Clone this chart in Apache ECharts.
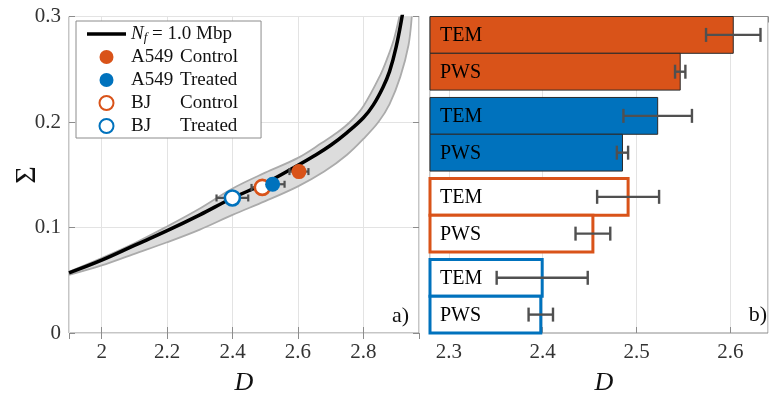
<!DOCTYPE html>
<html><head><meta charset="utf-8">
<script src="https://cdn.jsdelivr.net/npm/echarts@6/dist/echarts.min.js"></script>
<style>html,body{margin:0;padding:0;background:#fff}#c{width:773px;height:403px}</style>
</head><body><div id="c"></div>
<script>
// ---------- data ----------
const groups = ['A549 Control', 'A549 Treated', 'BJ Control', 'BJ Treated'];
const methods = ['TEM', 'PWS'];
const temD   = [2.603, 2.5225, 2.491, 2.3995];
const temErr = [0.029, 0.0365, 0.033, 0.0485];
const pwsD   = [2.5465, 2.485, 2.4535, 2.398];
const pwsErr = [0.0055, 0.006, 0.0185, 0.013];
const sigma  = [0.153, 0.141, 0.138, 0.128];

// N_f = 1.0 Mbp model curve
const curveD = [1.90, 2.00, 2.10, 2.20, 2.30, 2.40, 2.50, 2.60, 2.65, 2.70, 2.75, 2.80, 2.83, 2.86, 2.88, 2.90, 2.92, 2.935];
const curveS = [0.057, 0.069, 0.083, 0.097, 0.112, 0.128, 0.142, 0.159, 0.168, 0.178, 0.190, 0.204, 0.216, 0.233, 0.248, 0.271, 0.303, 0.330];
// band edges
const upperD = [1.90, 2.00, 2.10, 2.20, 2.30, 2.40, 2.50, 2.60, 2.672, 2.72, 2.759, 2.80, 2.851, 2.875, 2.892, 2.905, 2.913, 2.93];
const upperS = [0.058, 0.071, 0.085, 0.101, 0.118, 0.137, 0.152, 0.166, 0.180, 0.190, 0.200, 0.215, 0.244, 0.262, 0.277, 0.293, 0.305, 0.340];
const lowerD = [1.90, 2.00, 2.10, 2.20, 2.30, 2.40, 2.50, 2.60, 2.68, 2.75, 2.80, 2.846, 2.88, 2.913, 2.938, 2.948, 2.955];
const lowerS = [0.055, 0.064, 0.075, 0.086, 0.098, 0.112, 0.125, 0.139, 0.153, 0.169, 0.184, 0.200, 0.217, 0.243, 0.273, 0.300, 0.330];

// ---------- style ----------
const ORANGE = '#D95319', BLUE = '#0072BD';
const groupColor = [ORANGE, BLUE, ORANGE, BLUE];
const groupFilled = [true, true, false, false];
const SERIF = "'Liberation Serif','Times New Roman',serif";
const AX = '#8c8c8c', GRIDC = '#e3e3e3', LBL = '#333';
const ERRC = '#505050';
const GAP = 0.2;                 // gap between groups (bar heights)
const TOTAL = 4 * 2 + 3 * GAP;   // y extent of right panel

const chart = echarts.init(document.getElementById('c'), null, {renderer: 'canvas'});

function baseX(gridIndex, min, max, show) {
  return {
    type: 'value', gridIndex, min, max, splitNumber: gridIndex === 0 ? 5 : 4,
    position: show ? 'bottom' : 'top',
    axisLine: {show: false},
    axisTick: {show: true, inside: true, length: 6, lineStyle: {color: AX}},
    axisLabel: {show: show, showMinLabel: false, showMaxLabel: false, color: LBL,
      fontFamily: SERIF, fontSize: 21, margin: 9},
    splitLine: {show: show, lineStyle: {color: GRIDC, width: 1}}
  };
}

const xAxes = [
  Object.assign(baseX(0, 1.9, 2.97, true), {name: 'D', nameLocation: 'middle', nameGap: 37,
    nameTextStyle: {fontFamily: SERIF, fontStyle: 'italic', fontSize: 26, color: '#111'}}),
  Object.assign(baseX(1, 2.28, 2.64, true), {name: 'D', nameLocation: 'middle', nameGap: 37,
    nameTextStyle: {fontFamily: SERIF, fontStyle: 'italic', fontSize: 26, color: '#111', padding: [0, 0, 0, 10]}}),
  baseX(0, 1.9, 2.97, false),
  baseX(1, 2.28, 2.64, false)
];

const yAxes = [
  {type: 'value', gridIndex: 0, min: 0, max: 0.3, interval: 0.1,
    axisLine: {show: false},
    axisTick: {show: true, inside: true, length: 6, lineStyle: {color: AX}},
    axisLabel: {color: LBL, fontFamily: SERIF, fontSize: 21, margin: 8},
    splitLine: {show: true, lineStyle: {color: GRIDC, width: 1}}},
  {type: 'value', gridIndex: 1, min: 0, max: TOTAL, show: false},
  {type: 'value', gridIndex: 0, min: 0, max: 0.3, interval: 0.1, position: 'right',
    axisLine: {show: false}, axisLabel: {show: false}, splitLine: {show: false},
    axisTick: {show: true, inside: true, length: 6, lineStyle: {color: AX}}}
];

// band + edges
const bandSeries = {
  type: 'custom', name: 'band', xAxisIndex: 0, yAxisIndex: 0, clip: true, silent: true, z: 1,
  data: [[upperD[0], upperS[0]]],
  renderItem(params, api) {
    const up = upperD.map((d, i) => api.coord([d, upperS[i]]));
    const lo = lowerD.map((d, i) => api.coord([d, lowerS[i]]));
    return {type: 'group', children: [
      {type: 'polygon', shape: {points: up.concat(lo.slice().reverse()), smooth: 0.35}, style: {fill: '#dcdcdc', stroke: null}},
      {type: 'polyline', shape: {points: up, smooth: 0.35}, style: {stroke: '#ababab', lineWidth: 1.8, fill: null}},
      {type: 'polyline', shape: {points: lo, smooth: 0.35}, style: {stroke: '#ababab', lineWidth: 1.8, fill: null}}
    ]};
  }
};

const curveSeries = {
  type: 'line', name: 'Nf', xAxisIndex: 0, yAxisIndex: 0, z: 3,
  data: curveD.map((d, i) => [d, curveS[i]]),
  showSymbol: false, symbol: 'none', smooth: 0.4, clip: true,
  lineStyle: {color: '#000', width: 3.5}, itemStyle: {color: '#000'}
};

// scatter error bars
const scatterErr = {
  type: 'custom', name: 'scErr', xAxisIndex: 0, yAxisIndex: 0, z: 4, silent: true,
  data: groups.map((g, i) => [temD[i] - temErr[i], sigma[i], temD[i] + temErr[i]]),
  renderItem(params, api) {
    const a = api.coord([api.value(0), api.value(1)]);
    const b = api.coord([api.value(2), api.value(1)]);
    const h = 3.5, st = {stroke: ERRC, lineWidth: 2.2};
    return {type: 'group', children: [
      {type: 'line', shape: {x1: a[0], y1: a[1], x2: b[0], y2: b[1]}, style: st},
      {type: 'line', shape: {x1: a[0], y1: a[1] - h, x2: a[0], y2: a[1] + h}, style: st},
      {type: 'line', shape: {x1: b[0], y1: b[1] - h, x2: b[0], y2: b[1] + h}, style: st}
    ]};
  }
};

const drawOrder = [3, 2, 1, 0];
const scatterSeries = drawOrder.map(i => ({
  type: 'scatter', name: groups[i], xAxisIndex: 0, yAxisIndex: 0, z: 5,
  data: [[temD[i], sigma[i]]], symbol: 'circle', symbolSize: 15,
  itemStyle: groupFilled[i]
    ? {color: groupColor[i], borderWidth: 0, opacity: 1}
    : {color: '#fff', borderColor: groupColor[i], borderWidth: 2.6, opacity: 1}
}));

// bars
const barData = [];
groups.forEach((g, gi) => {
  barData.push([gi, 0, temD[gi], temErr[gi]]);
  barData.push([gi, 1, pwsD[gi], pwsErr[gi]]);
});
const barSeries = {
  type: 'custom', name: 'bars', xAxisIndex: 1, yAxisIndex: 1, z: 3, clip: false,
  data: barData,
  encode: {x: 2, y: 1},
  renderItem(params, api) {
    const gi = api.value(0), mi = api.value(1), v = api.value(2), e = api.value(3);
    const yc = TOTAL - (gi * (2 + GAP) + mi + 0.5);
    const base = xAxes[1].min;
    const p0 = api.coord([base, yc + 0.5]);
    const p1 = api.coord([v, yc - 0.5]);
    const filled = groupFilled[gi];
    const col = groupColor[gi];
    const rect = {type: 'rect', shape: {x: p0[0], y: p0[1], width: p1[0] - p0[0], height: p1[1] - p0[1]},
      style: filled ? {fill: col, stroke: '#2a2a2a', lineWidth: 1}
                    : {fill: '#fff', stroke: col, lineWidth: 3}};
    const c = api.coord([v, yc]);
    const a = api.coord([v - e, yc]);
    const b = api.coord([v + e, yc]);
    const h = 7, st = {stroke: ERRC, lineWidth: 2.4};
    return {type: 'group', children: [
      rect,
      {type: 'text', x: p0[0] + 10, y: c[1] + 1, style: {text: methods[mi], fill: '#000',
        font: '20px ' + SERIF, align: 'left', verticalAlign: 'middle'}},
      {type: 'line', shape: {x1: a[0], y1: a[1], x2: b[0], y2: b[1]}, style: st},
      {type: 'line', shape: {x1: a[0], y1: a[1] - h, x2: a[0], y2: a[1] + h}, style: st},
      {type: 'line', shape: {x1: b[0], y1: b[1] - h, x2: b[0], y2: b[1] + h}, style: st}
    ]};
  }
};

const option = {
  animation: false,
  backgroundColor: '#fff',
  grid: [
    {left: 69, right: 354, top: 16.5, bottom: 70, show: true, borderColor: AX, borderWidth: 1, backgroundColor: 'transparent'},
    {left: 430, right: 5, top: 16.5, bottom: 70, show: true, borderColor: AX, borderWidth: 1, backgroundColor: 'transparent'}
  ],
  xAxis: xAxes,
  yAxis: yAxes,
  legend: {
    show: true, orient: 'vertical', left: 76, top: 21,
    data: [{name: 'Nf', icon: 'path://M0,0H39V3.5H0Z'}, 'A549 Control', 'A549 Treated', 'BJ Control', 'BJ Treated'],
    itemWidth: 39, itemHeight: 14, itemGap: 3,
    padding: [3, 23, 2, 11],
    backgroundColor: '#fff', borderColor: AX, borderWidth: 1, borderRadius: 0,
    selectedMode: false,
    formatter(name) {
      if (name === 'Nf') return '{i|N}{s|f}{t| = 1.0 Mbp}';
      const k = name.indexOf(' ');
      return '{a|' + name.slice(0, k) + '}{t|' + name.slice(k + 1) + '}';
    },
    textStyle: {
      fontFamily: SERIF, fontSize: 19, color: '#111', lineHeight: 20,
      rich: {
        i: {fontFamily: SERIF, fontSize: 19, fontStyle: 'italic', color: '#111', lineHeight: 20},
        s: {fontFamily: SERIF, fontSize: 13, fontStyle: 'italic', color: '#111', lineHeight: 12, verticalAlign: 'bottom'},
        a: {fontFamily: SERIF, fontSize: 19, color: '#111', width: 49, lineHeight: 20},
        t: {fontFamily: SERIF, fontSize: 19, color: '#111', lineHeight: 20}
      }
    }
  },
  graphic: [
    {type: 'text', x: 27, y: 175, rotation: Math.PI / 2, z: 10,
      style: {text: 'Σ', font: '30px ' + SERIF, fill: '#111', align: 'center', verticalAlign: 'middle'}},
    {type: 'text', x: 409, y: 316, z: 10, style: {text: 'a)', font: '22px ' + SERIF, fill: '#111', align: 'right', verticalAlign: 'middle'}},
    {type: 'text', x: 767, y: 315, z: 10, style: {text: 'b)', font: '22px ' + SERIF, fill: '#111', align: 'right', verticalAlign: 'middle'}}
  ],
  series: [bandSeries, curveSeries, scatterErr].concat(scatterSeries, [barSeries])
};
chart.setOption(option);
</script>
</body></html>
